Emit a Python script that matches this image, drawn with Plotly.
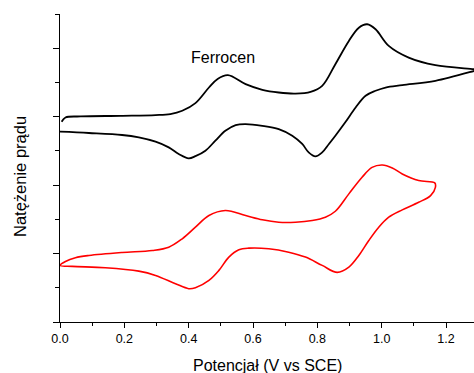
import plotly.graph_objects as go

# Black CV (ferrocene sample): forward (upper) then reverse (lower) branch
black_x = [0.005, 0.017, 0.064, 0.188, 0.297, 0.343, 0.380, 0.421, 0.463, 0.490, 0.522, 0.577,
           0.629, 0.680, 0.732, 0.779, 0.815, 0.856, 0.898, 0.929, 0.955, 0.981, 1.022, 1.084,
           1.167, 1.288, 1.300,
           1.288, 1.167, 1.064, 1.012, 0.981, 0.950, 0.919, 0.888, 0.856, 0.836, 0.815, 0.794,
           0.773, 0.753, 0.722, 0.680, 0.629, 0.577, 0.546, 0.514, 0.483, 0.452, 0.421, 0.400,
           0.369, 0.338, 0.297, 0.245, 0.193, 0.090, 0.0]
black_y = [2.926, 2.988, 3.003, 3.013, 3.023, 3.038, 3.086, 3.198, 3.426, 3.552, 3.606, 3.475,
           3.392, 3.353, 3.338, 3.363, 3.450, 3.767, 4.106, 4.300, 4.350, 4.277, 4.034, 3.863,
           3.752, 3.694, 3.685,
           3.669, 3.523, 3.461, 3.426, 3.378, 3.305, 3.134, 2.926, 2.722, 2.601, 2.478, 2.420,
           2.478, 2.601, 2.722, 2.819, 2.867, 2.892, 2.878, 2.794, 2.649, 2.503, 2.423, 2.391,
           2.455, 2.551, 2.634, 2.697, 2.732, 2.761, 2.780]

# Red CV
red_x = [0.0, 0.017, 0.048, 0.090, 0.193, 0.287, 0.338, 0.380, 0.421, 0.463, 0.514, 0.577,
         0.629, 0.680, 0.732, 0.784, 0.825, 0.856, 0.898, 0.939, 0.970, 1.002, 1.033, 1.064,
         1.115, 1.165,
         1.167, 1.152, 1.115, 1.064, 1.022, 0.991, 0.960, 0.929, 0.898, 0.862, 0.815,
         0.763, 0.711, 0.649, 0.587, 0.556, 0.525, 0.494, 0.463, 0.421, 0.400, 0.359, 0.297,
         0.245, 0.141, 0.038, 0.0]
red_y = [0.827, 0.885, 0.939, 0.972, 1.016, 1.045, 1.093, 1.216, 1.385, 1.555, 1.628, 1.555,
         1.493, 1.458, 1.458, 1.483, 1.531, 1.618, 1.872, 2.114, 2.259, 2.294, 2.251, 2.163,
         2.066, 2.032,
         1.968, 1.847, 1.749, 1.638, 1.531, 1.385, 1.191, 0.972, 0.802, 0.725, 0.827,
         0.948, 1.020, 1.070, 1.079, 1.055, 0.948, 0.754, 0.608, 0.501, 0.487, 0.560, 0.681,
         0.743, 0.793, 0.812, 0.827]

x_tickvals = [0.0, 0.2, 0.4, 0.6, 0.8, 1.0, 1.2]
x_ticktext = ["0.0", "0.2", "0.4", "0.6", "0.8", "1.0", "1.2"]

FONT = "Liberation Sans, Arial, sans-serif"

fig = go.Figure()
fig.add_trace(go.Scatter(x=black_x, y=black_y, mode="lines",
                         line=dict(color="black", width=1.8, shape="spline", smoothing=1.0),
                         showlegend=False, hoverinfo="skip"))
fig.add_trace(go.Scatter(x=red_x, y=red_y, mode="lines",
                         line=dict(color="#ff0000", width=1.6, shape="spline", smoothing=1.0),
                         showlegend=False, hoverinfo="skip"))

fig.update_layout(
    width=474, height=373,
    margin=dict(l=60, r=0, t=14, b=51, pad=0),
    paper_bgcolor="white", plot_bgcolor="white",
    font=dict(family=FONT, color="black", size=12.5),
    xaxis=dict(range=[0, 1.287], showgrid=False, zeroline=False,
               showline=True, linecolor="black", linewidth=1,
               ticks="outside", ticklen=5, tickwidth=1, tickcolor="black",
               tickvals=x_tickvals, ticktext=x_ticktext,
               tickfont=dict(family=FONT, size=12.5, color="black"),
               minor=dict(ticks="outside", ticklen=3, tickwidth=1, tickcolor="black", dtick=0.1, tick0=0),
               fixedrange=True),
    yaxis=dict(range=[0, 4.5], showgrid=False, zeroline=False,
               showline=True, linecolor="black", linewidth=1,
               ticks="outside", ticklen=6, tickwidth=1, tickcolor="black",
               tick0=0, dtick=1, showticklabels=False,
               minor=dict(ticks="outside", ticklen=4, tickwidth=1, tickcolor="black", dtick=0.5, tick0=0),
               fixedrange=True),
    annotations=[
        dict(text="Ferrocen", x=0.508, y=3.87, xref="x", yref="y", showarrow=False,
             xanchor="center", yanchor="middle", font=dict(family=FONT, size=16, color="black")),
        dict(text="Potencjał (V vs SCE)", x=0.5, y=(322 - 365.5) / 308, xref="paper", yref="paper",
             showarrow=False, xanchor="center", yanchor="middle",
             font=dict(family=FONT, size=16, color="black")),
        dict(text="Natężenie prądu", x=(19.5 - 60) / 414, y=(322 - 176.5) / 308, xref="paper", yref="paper",
             showarrow=False, xanchor="center", yanchor="middle", textangle=-90,
             font=dict(family=FONT, size=16.5, color="black")),
    ],
)

fig.write_html("out.html", config={"displayModeBar": False})
